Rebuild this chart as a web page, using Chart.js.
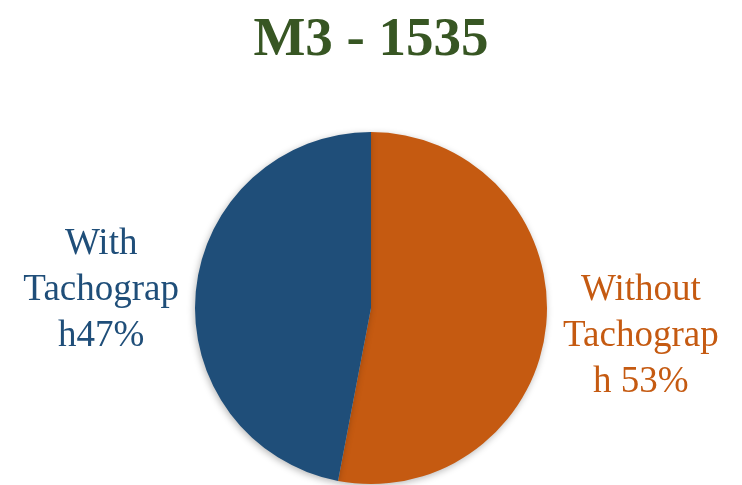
<!DOCTYPE html>
<html><head><meta charset="utf-8">
<script src="https://cdn.jsdelivr.net/npm/chart.js@4"></script>
<style>html,body{margin:0;padding:0;background:#fff}#wrap{width:742px;height:485px}</style>
</head><body><div id="wrap"><canvas id="c" width="742" height="485"></canvas></div>
<script>
const titleText = "M3 - 1535";
const categories = ["Without Tachograph", "With Tachograph"];
const values = [53, 47];
const labelLines = [["Without", "Tachograp", "h 53%"], ["With", "Tachograp", "h47%"]];
const colors = ["#C55A11", "#1F4E79"];

const shadowPlugin = {
  id: 'shadow',
  beforeDatasetsDraw(chart) {
    const ctx = chart.ctx; ctx.save();
    ctx.shadowColor = 'rgba(0,0,0,0.28)'; ctx.shadowBlur = 7; ctx.shadowOffsetX = -1; ctx.shadowOffsetY = 2;
  },
  afterDatasetsDraw(chart) { chart.ctx.restore(); }
};
const labelNudge = [3, 8];
const labelPlugin = {
  id: 'outLabels',
  afterDraw(chart) {
    const ctx = chart.ctx;
    ctx.save();
    ctx.fillStyle = '#375623';
    ctx.font = 'bold 55px "Liberation Serif", serif';
    ctx.textAlign = 'center'; ctx.textBaseline = 'alphabetic';
    ctx.fillText(titleText, chart.width / 2, 55);
    const meta = chart.getDatasetMeta(0);
    meta.data.forEach((arc, i) => {
      const p = arc.getProps(['x','y','startAngle','endAngle','outerRadius'], true);
      const mid = (p.startAngle + p.endAngle) / 2;
      const r = p.outerRadius * 1.54;
      const cx = p.x + Math.cos(mid) * r, cy = p.y + Math.sin(mid) * r + labelNudge[i];
      ctx.fillStyle = colors[i];
      ctx.font = '37px "Liberation Serif", serif';
      ctx.textBaseline = 'middle';
      const lines = labelLines[i], lh = 46;
      lines.forEach((t, k) => ctx.fillText(t, cx, cy + (k - (lines.length - 1) / 2) * lh));
    });
    ctx.restore();
  }
};
new Chart(document.getElementById('c'), {
  type: 'pie',
  data: { labels: categories, datasets: [{ data: values, backgroundColor: colors, borderWidth: 0 }] },
  options: {
    responsive: false, animation: false,
    layout: { padding: { top: 132, bottom: 1, left: 180, right: 180 } },
    plugins: { legend: { display: false }, tooltip: { enabled: false }, title: { display: false } }
  },
  plugins: [shadowPlugin, labelPlugin]
});
</script></body></html>
